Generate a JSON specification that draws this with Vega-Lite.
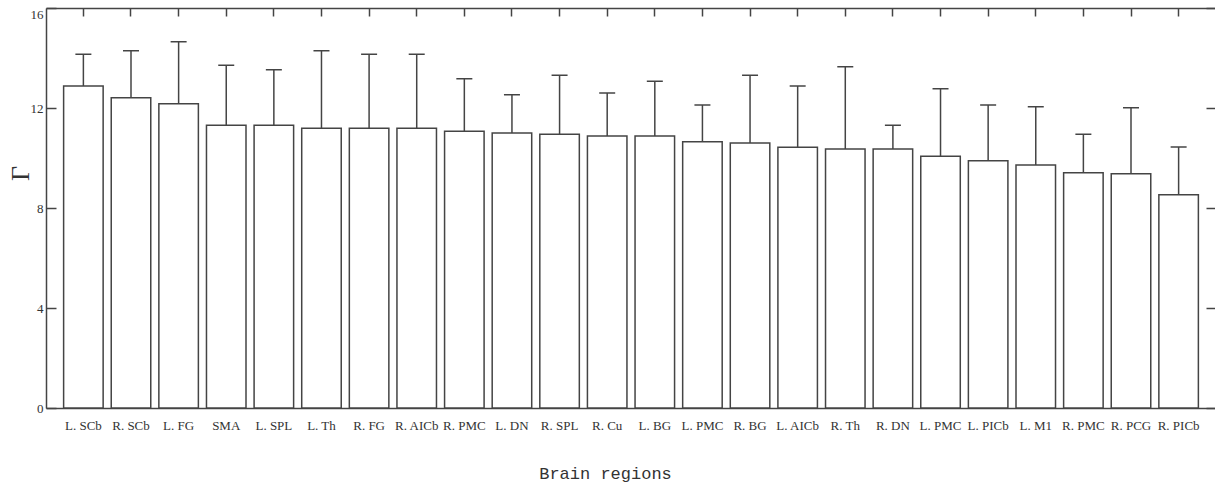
{
  "$schema": "https://vega.github.io/schema/vega-lite/v6.json",
  "autosize": "none",
  "padding": {"left": 46, "top": 8, "right": 0, "bottom": 77},
  "width": 1170,
  "height": 400,
  "background": "white",
  "config": {
    "view": {"stroke": null},
    "axis": {"domainColor": "#444", "domainWidth": 1.5, "tickColor": "#444", "tickWidth": 1.5, "grid": false,
      "labelFont": "Liberation Serif", "labelColor": "#333", "titleColor": "#333"}
  },
  "data": {"values": [
    {"region": "L. SCb", "mean": 12.88, "upper": 14.15},
    {"region": "R. SCb", "mean": 12.41, "upper": 14.29},
    {"region": "L. FG", "mean": 12.17, "upper": 14.65},
    {"region": "SMA", "mean": 11.31, "upper": 13.71},
    {"region": "L. SPL", "mean": 11.31, "upper": 13.53},
    {"region": "L. Th", "mean": 11.19, "upper": 14.29},
    {"region": "R. FG", "mean": 11.19, "upper": 14.15},
    {"region": "R. AICb", "mean": 11.19, "upper": 14.15},
    {"region": "R. PMC", "mean": 11.07, "upper": 13.17},
    {"region": "L. DN", "mean": 11.0, "upper": 12.53},
    {"region": "R. SPL", "mean": 10.95, "upper": 13.31},
    {"region": "R. Cu", "mean": 10.88, "upper": 12.6},
    {"region": "L. BG", "mean": 10.88, "upper": 13.07},
    {"region": "L. PMC", "mean": 10.65, "upper": 12.12},
    {"region": "R. BG", "mean": 10.6, "upper": 13.31},
    {"region": "L. AICb", "mean": 10.43, "upper": 12.88},
    {"region": "R. Th", "mean": 10.36, "upper": 13.65},
    {"region": "R. DN", "mean": 10.36, "upper": 11.31},
    {"region": "L. PMC ", "mean": 10.07, "upper": 12.77},
    {"region": "L. PICb", "mean": 9.89, "upper": 12.12},
    {"region": "L. M1", "mean": 9.72, "upper": 12.05},
    {"region": "R. PMC ", "mean": 9.41, "upper": 10.95},
    {"region": "R. PCG", "mean": 9.37, "upper": 12.01},
    {"region": "R. PICb", "mean": 8.53, "upper": 10.44}
  ]},
  "layer": [
    {
      "mark": {"type": "bar", "fill": "white", "stroke": "#444", "strokeWidth": 1.5},
      "encoding": {
        "x": {"field": "region", "type": "nominal", "sort": null,
          "scale": {"paddingInner": 0.17, "paddingOuter": 0.37},
          "axis": {"orient": "bottom", "ticks": false, "labelAngle": 0, "labelFontSize": 13, "labelPadding": 11,
            "title": "Brain regions", "titleFont": "Liberation Mono", "titleFontSize": 17, "titleFontWeight": "normal",
            "titleX": 559, "titleY": 65, "titleBaseline": "middle", "titleAlign": "center"}},
        "y": {"field": "mean", "type": "quantitative",
          "scale": {"domain": [0, 16], "nice": false},
          "axis": {"orient": "left", "values": [0, 4, 8, 12, 16], "tickSize": -10, "labelFontSize": 13, "labelPadding": 13,
            "labelOffset": {"condition": {"test": "datum.value == 16", "value": 6}, "value": 0},
            "title": "Γ", "titleFont": "Liberation Serif", "titleFontSize": 26, "titleFontWeight": "normal",
            "titleX": -26, "titleY": 165, "titleAlign": "center", "titleBaseline": "middle"}}
      }
    },
    {
      "mark": {"type": "rule", "stroke": "#444", "strokeWidth": 1.5},
      "encoding": {
        "x": {"field": "region", "type": "nominal", "sort": null,
          "axis": {"orient": "top", "labels": false, "tickSize": -8, "title": null}},
        "y": {"field": "mean", "type": "quantitative",
          "axis": {"orient": "right", "values": [0, 4, 8, 12, 16], "labels": false, "tickSize": -10, "title": null}},
        "y2": {"field": "upper"}
      }
    },
    {
      "mark": {"type": "tick", "color": "#444", "thickness": 1.5, "size": 16, "opacity": 1},
      "encoding": {
        "x": {"field": "region", "type": "nominal", "sort": null, "axis": null},
        "y": {"field": "upper", "type": "quantitative", "axis": null}
      }
    }
  ],
  "resolve": {"axis": {"x": "independent", "y": "independent"}}
}
